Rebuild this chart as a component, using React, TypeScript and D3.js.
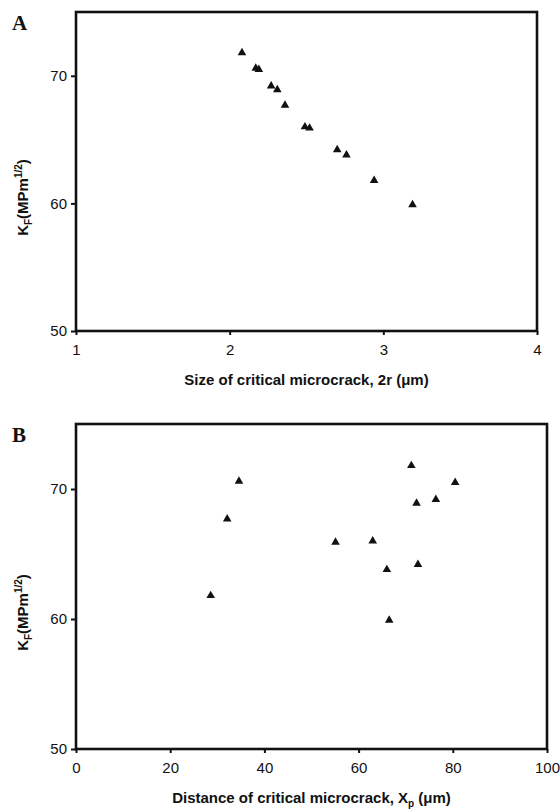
import React, { useEffect, useRef } from 'react';
import * as d3 from 'd3';

// fracture toughness K_F (MPa m^1/2) - same specimens in both panels
const kF = [71.8, 70.6, 70.5, 69.2, 68.9, 67.7, 66.0, 65.9, 64.2, 63.8, 61.8, 59.9];
// panel A: size of critical microcrack, 2r (um)
const crackSize = [2.08, 2.17, 2.19, 2.27, 2.31, 2.36, 2.49, 2.52, 2.70, 2.76, 2.94, 3.19];
// panel B: distance of critical microcrack, Xp (um)
const crackDistance = [71.2, 34.6, 80.5, 76.4, 72.3, 32.1, 63.0, 55.1, 72.6, 66.0, 28.6, 66.5];

const kTicks = [50, 60, 70];
const sizeTicks = [1, 2, 3, 4];
const distanceTicks = [0, 20, 40, 60, 80, 100];

const FONT = '"Liberation Sans", Arial, sans-serif';

const drawPanel = (svg, opts) => {
  const { xs, xDomain, xTicks, box, letter, xTitle } = opts;

  const x = d3.scaleLinear().domain(xDomain).range([box.left, box.right]);
  const y = d3.scaleLinear().domain([50, 75]).range([box.bottom, box.top]);

  const g = svg.append('g');

  // axes (ticks only, the frame is drawn separately)
  const xAxis = g.append('g')
    .attr('transform', `translate(0,${box.bottom})`)
    .call(d3.axisBottom(x).tickValues(xTicks).tickFormat(d3.format('d')).tickSize(4).tickPadding(9));
  const yAxis = g.append('g')
    .attr('transform', `translate(${box.left},0)`)
    .call(d3.axisLeft(y).tickValues(kTicks).tickFormat(d3.format('d')).tickSize(5).tickPadding(4));

  [xAxis, yAxis].forEach(a => {
    a.select('.domain').remove();
    a.selectAll('line').attr('stroke', '#111').attr('stroke-width', 2);
    a.selectAll('text')
      .attr('font-family', FONT)
      .attr('font-size', 15)
      .attr('fill', '#111');
  });

  // frame
  g.append('rect')
    .attr('x', box.left)
    .attr('y', box.top)
    .attr('width', box.right - box.left)
    .attr('height', box.bottom - box.top)
    .attr('fill', 'none')
    .attr('stroke', '#111')
    .attr('stroke-width', 2.6);

  // points
  const tri = d3.symbol(d3.symbolTriangle, 32);
  g.append('g')
    .selectAll('path')
    .data(kF)
    .join('path')
    .attr('d', tri)
    .attr('transform', (d, i) => `translate(${x(xs[i])},${y(d)})`)
    .attr('fill', '#111');

  // panel letter
  g.append('text')
    .attr('x', 12)
    .attr('y', box.top + 18)
    .attr('font-family', '"Liberation Serif", "Times New Roman", serif')
    .attr('font-weight', 'bold')
    .attr('font-size', 21)
    .attr('fill', '#111')
    .text(letter);

  // x title
  const xt = g.append('text')
    .attr('x', (box.left + box.right) / 2)
    .attr('y', box.bottom + 54)
    .attr('text-anchor', 'middle')
    .attr('font-family', FONT)
    .attr('font-weight', 'bold')
    .attr('font-size', 15)
    .attr('fill', '#111');
  xTitle(xt);

  // y title (sits a little below the middle of the plot, as in the source)
  const yt = g.append('text')
    .attr('transform', `translate(28,${(box.top + box.bottom) / 2 + 26}) rotate(-90)`)
    .attr('text-anchor', 'middle')
    .attr('font-family', FONT)
    .attr('font-weight', 'bold')
    .attr('font-size', 15)
    .attr('fill', '#111');
  yt.append('tspan').text('K');
  yt.append('tspan').attr('font-size', 10).attr('dy', 4).text('F');
  yt.append('tspan').attr('dy', -4).text('(MPm');
  yt.append('tspan').attr('font-size', 10).attr('dy', -6).text('1/2');
  yt.append('tspan').attr('dy', 6).text(')');
};

const App = () => {
  const svgRef = useRef(null);

  useEffect(() => {
    const svg = d3.select(svgRef.current);
    svg.selectAll('*').remove();

    drawPanel(svg, {
      xs: crackSize,
      xDomain: [1, 4],
      xTicks: sizeTicks,
      box: { left: 76, right: 537, top: 12, bottom: 331 },
      letter: 'A',
      xTitle: t => {
        t.append('tspan').text('Size of critical microcrack, 2r (\u03bcm)');
      },
    });

    drawPanel(svg, {
      xs: crackDistance,
      xDomain: [0, 100],
      xTicks: distanceTicks,
      box: { left: 76, right: 547, top: 424, bottom: 749 },
      letter: 'B',
      xTitle: t => {
        t.append('tspan').text('Distance of critical microcrack, X');
        t.append('tspan').attr('font-size', 10).attr('dy', 4).text('p');
        t.append('tspan').attr('dy', -4).text(' (\u03bcm)');
      },
    });
  }, []);

  return (
    <svg
      ref={svgRef}
      width="560"
      height="809"
      style={{ position: 'absolute', left: 0, top: 0, background: '#fff' }}
    />
  );
};

export default App;
